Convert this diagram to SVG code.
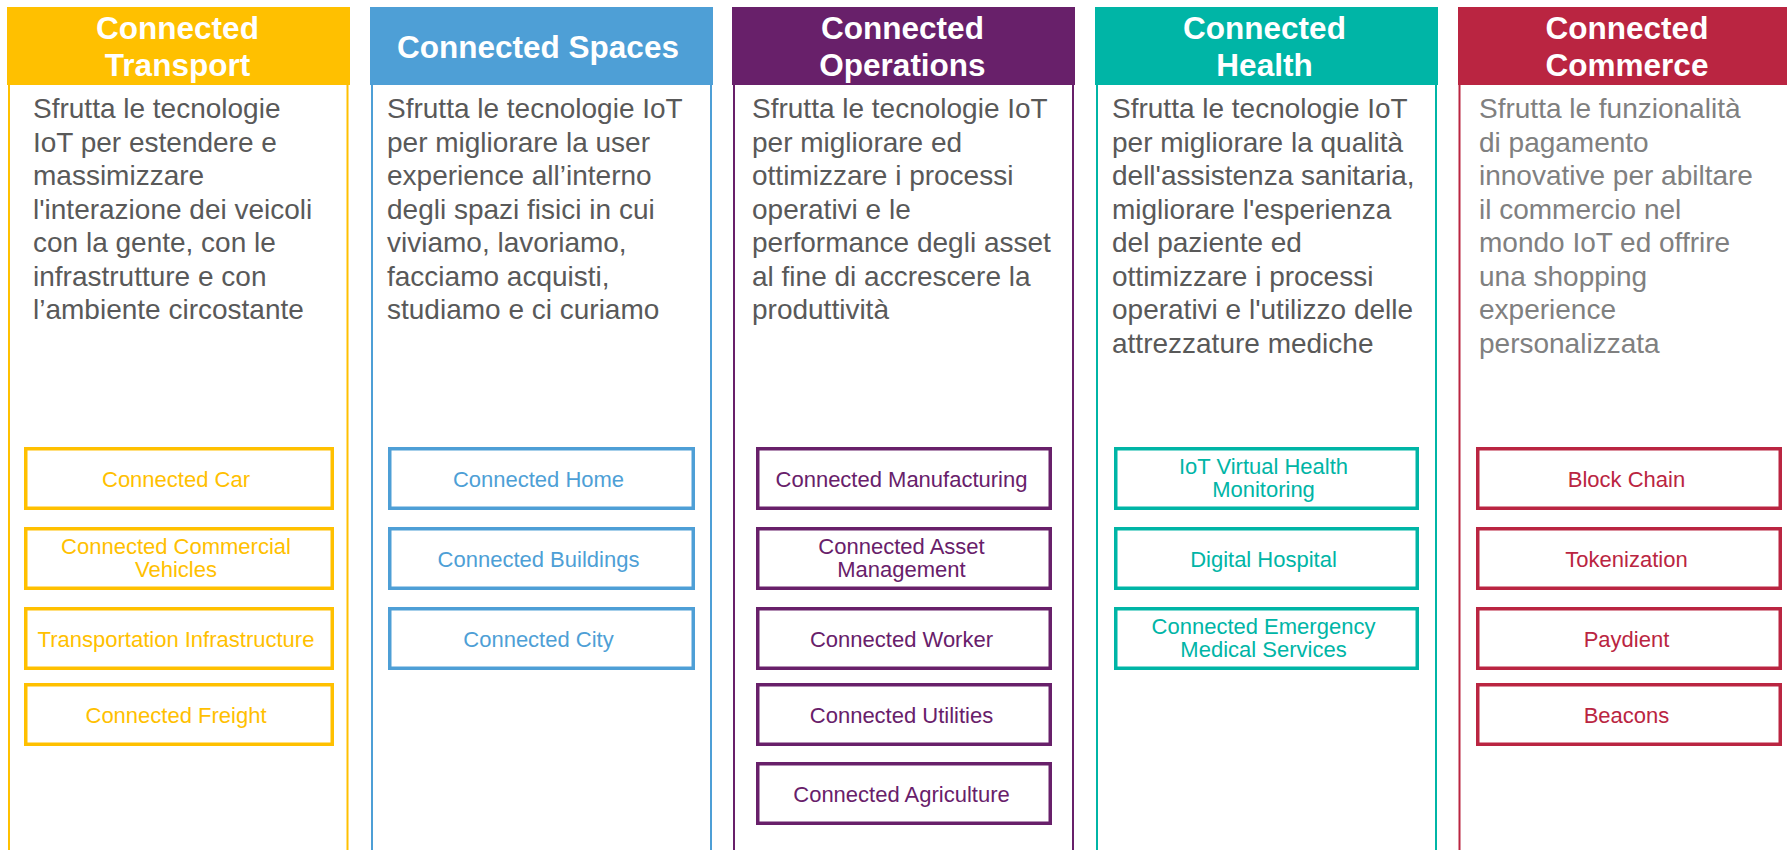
<svg xmlns="http://www.w3.org/2000/svg" width="1787" height="850" viewBox="0 0 1787 850">
<style>
text{font-family:"Liberation Sans",Arial,sans-serif}
.hd{font-size:31.5px;font-weight:bold;fill:#fff;text-anchor:middle}
.bd{font-size:28px;fill:#595959}
.bd5{font-size:28px;fill:#808080}
.lb{font-size:22px;text-anchor:middle}
.sb{fill:#fff;stroke-width:3.5}
.ln{fill:none;stroke-width:2}
.yel{fill:#FFC000}.yels{stroke:#FFC000}
.blu{fill:#4E9FD6}.blus{stroke:#4E9FD6}
.pur{fill:#68206A}.purs{stroke:#68206A}
.tea{fill:#00B5A6}.teas{stroke:#00B5A6}
.red{fill:#BA2541}.reds{stroke:#BA2541}
</style>
<rect width="1787" height="850" fill="#fff"/>

<g id="transport">
<rect x="7" y="7" width="343" height="78" class="yel"/>
<path d="M9 85V850M347.5 85V850" class="ln yels"/>
<text class="hd" x="177.5" y="39">Connected</text>
<text class="hd" x="177.5" y="76">Transport</text>
<g class="bd">
<text x="33" y="118">Sfrutta le tecnologie</text>
<text x="33" y="151.5">IoT per estendere e</text>
<text x="33" y="185">massimizzare</text>
<text x="33" y="218.5">l'interazione dei veicoli</text>
<text x="33" y="252">con la gente, con le</text>
<text x="33" y="285.5">infrastrutture e con</text>
<text x="33" y="319">l’ambiente circostante</text>
</g>
<g id="t-car"><rect x="25.75" y="448.75" width="306.5" height="59.5" class="sb yels"/><text class="lb yel" x="176" y="486.5">Connected Car</text></g>
<g id="t-ccv"><rect x="25.75" y="528.75" width="306.5" height="59.5" class="sb yels"/><text class="lb yel" x="176" y="554">Connected Commercial</text><text class="lb yel" x="176" y="577">Vehicles</text></g>
<g id="t-ti"><rect x="25.75" y="608.75" width="306.5" height="59.5" class="sb yels"/><text class="lb yel" x="176" y="646.5">Transportation Infrastructure</text></g>
<g id="t-cf"><rect x="25.75" y="684.75" width="306.5" height="59.5" class="sb yels"/><text class="lb yel" x="176" y="722.5">Connected Freight</text></g>
</g>

<g id="spaces">
<rect x="370" y="7" width="343" height="78" class="blu"/>
<path d="M372 85V850M711 85V850" class="ln blus"/>
<text class="hd" x="538" y="58">Connected Spaces</text>
<g class="bd">
<text x="387" y="118">Sfrutta le tecnologie IoT</text>
<text x="387" y="151.5">per migliorare la user</text>
<text x="387" y="185">experience all’interno</text>
<text x="387" y="218.5">degli spazi fisici in cui</text>
<text x="387" y="252">viviamo, lavoriamo,</text>
<text x="387" y="285.5">facciamo acquisti,</text>
<text x="387" y="319">studiamo e ci curiamo</text>
</g>
<g id="s-home"><rect x="389.75" y="448.75" width="303.5" height="59.5" class="sb blus"/><text class="lb blu" x="538.5" y="486.5">Connected Home</text></g>
<g id="s-build"><rect x="389.75" y="528.75" width="303.5" height="59.5" class="sb blus"/><text class="lb blu" x="538.5" y="566.5">Connected Buildings</text></g>
<g id="s-city"><rect x="389.75" y="608.75" width="303.5" height="59.5" class="sb blus"/><text class="lb blu" x="538.5" y="646.5">Connected City</text></g>
</g>

<g id="operations">
<rect x="732" y="7" width="343" height="78" class="pur"/>
<path d="M734 85V850M1073 85V850" class="ln purs"/>
<text class="hd" x="902.5" y="39">Connected</text>
<text class="hd" x="902.5" y="76">Operations</text>
<g class="bd">
<text x="752" y="118">Sfrutta le tecnologie IoT</text>
<text x="752" y="151.5">per migliorare ed</text>
<text x="752" y="185">ottimizzare i processi</text>
<text x="752" y="218.5">operativi e le</text>
<text x="752" y="252">performance degli asset</text>
<text x="752" y="285.5">al fine di accrescere la</text>
<text x="752" y="319">produttività</text>
</g>
<g id="o-man"><rect x="757.75" y="448.75" width="292.5" height="59.5" class="sb purs"/><text class="lb pur" x="901.5" y="486.5">Connected Manufacturing</text></g>
<g id="o-asset"><rect x="757.75" y="528.75" width="292.5" height="59.5" class="sb purs"/><text class="lb pur" x="901.5" y="554">Connected Asset</text><text class="lb pur" x="901.5" y="577">Management</text></g>
<g id="o-work"><rect x="757.75" y="608.75" width="292.5" height="59.5" class="sb purs"/><text class="lb pur" x="901.5" y="646.5">Connected Worker</text></g>
<g id="o-util"><rect x="757.75" y="684.75" width="292.5" height="59.5" class="sb purs"/><text class="lb pur" x="901.5" y="722.5">Connected Utilities</text></g>
<g id="o-agri"><rect x="757.75" y="763.75" width="292.5" height="59.5" class="sb purs"/><text class="lb pur" x="901.5" y="801.5">Connected Agriculture</text></g>
</g>

<g id="health">
<rect x="1095" y="7" width="343" height="78" class="tea"/>
<path d="M1097 85V850M1436 85V850" class="ln teas"/>
<text class="hd" x="1264.5" y="39">Connected</text>
<text class="hd" x="1264.5" y="76">Health</text>
<g class="bd">
<text x="1112" y="118">Sfrutta le tecnologie IoT</text>
<text x="1112" y="151.5">per migliorare la qualità</text>
<text x="1112" y="185">dell'assistenza sanitaria,</text>
<text x="1112" y="218.5">migliorare l'esperienza</text>
<text x="1112" y="252">del paziente ed</text>
<text x="1112" y="285.5">ottimizzare i processi</text>
<text x="1112" y="319">operativi e l'utilizzo delle</text>
<text x="1112" y="352.5">attrezzature mediche</text>
</g>
<g id="h-vhm"><rect x="1115.75" y="448.75" width="301.5" height="59.5" class="sb teas"/><text class="lb tea" x="1263.5" y="474">IoT Virtual Health</text><text class="lb tea" x="1263.5" y="497">Monitoring</text></g>
<g id="h-dh"><rect x="1115.75" y="528.75" width="301.5" height="59.5" class="sb teas"/><text class="lb tea" x="1263.5" y="566.5">Digital Hospital</text></g>
<g id="h-cems"><rect x="1115.75" y="608.75" width="301.5" height="59.5" class="sb teas"/><text class="lb tea" x="1263.5" y="634">Connected Emergency</text><text class="lb tea" x="1263.5" y="657">Medical Services</text></g>
</g>

<g id="commerce">
<rect x="1458" y="7" width="343" height="78" class="red"/>
<path d="M1459.5 85V850" class="ln reds"/>
<text class="hd" x="1627" y="39">Connected</text>
<text class="hd" x="1627" y="76">Commerce</text>
<g class="bd5">
<text x="1479" y="118">Sfrutta le funzionalità</text>
<text x="1479" y="151.5">di pagamento</text>
<text x="1479" y="185">innovative per abiltare</text>
<text x="1479" y="218.5">il commercio nel</text>
<text x="1479" y="252">mondo IoT ed offrire</text>
<text x="1479" y="285.5">una shopping</text>
<text x="1479" y="319">experience</text>
<text x="1479" y="352.5">personalizzata</text>
</g>
<g id="c-bc"><rect x="1477.75" y="448.75" width="302.5" height="59.5" class="sb reds"/><text class="lb red" x="1626.5" y="486.5">Block Chain</text></g>
<g id="c-tok"><rect x="1477.75" y="528.75" width="302.5" height="59.5" class="sb reds"/><text class="lb red" x="1626.5" y="566.5">Tokenization</text></g>
<g id="c-pay"><rect x="1477.75" y="608.75" width="302.5" height="59.5" class="sb reds"/><text class="lb red" x="1626.5" y="646.5">Paydient</text></g>
<g id="c-bea"><rect x="1477.75" y="684.75" width="302.5" height="59.5" class="sb reds"/><text class="lb red" x="1626.5" y="722.5">Beacons</text></g>
</g>

<g id="connectors"></g>
</svg>
